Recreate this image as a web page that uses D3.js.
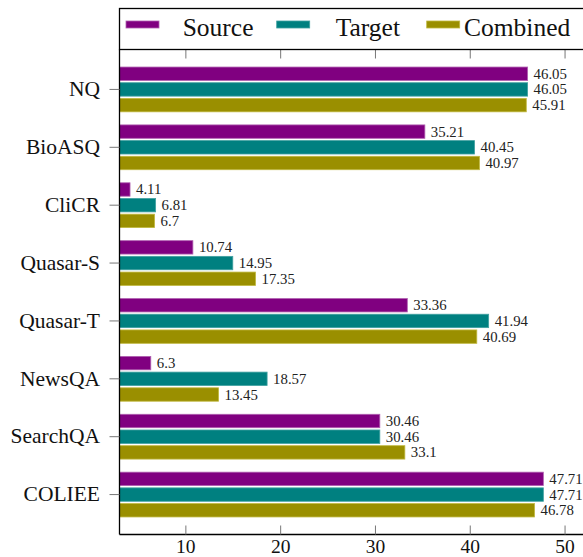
<!DOCTYPE html>
<html><head><meta charset="utf-8">
<script src="https://cdn.jsdelivr.net/npm/d3@7"></script>
<style>body{margin:0;background:#fff}svg{display:block}text{font-family:"Liberation Serif","DejaVu Serif",serif}</style>
</head><body>
<svg id="c" width="583" height="557"></svg>
<script>
const categories = ["NQ","BioASQ","CliCR","Quasar-S","Quasar-T","NewsQA","SearchQA","COLIEE"];
const sourceVals = [46.05,35.21,4.11,10.74,33.36,6.3,30.46,47.71];
const targetVals = [46.05,40.45,6.81,14.95,41.94,18.57,30.46,47.71];
const combinedVals = [45.91,40.97,6.7,17.35,40.69,13.45,33.1,46.78];
const seriesNames = ["Source","Target","Combined"];
const xTicks = [10,20,30,40,50];

(function(){
const colors = ["#800080","#008080","#9a8f00"];
const strokes = ["#b060b0","#40a0a0","#c0b840"];
const series = [sourceVals,targetVals,combinedVals];

const svg = d3.select("#c");
const pL = 119.5, pT = 49.5, pB = 534.5, pR = 640;
const x = d3.scaleLinear().domain([3,53]).range([pL, pL+50*9.48]);
const y = d3.scaleBand().domain(categories).range([pT,pB]).paddingInner(0).paddingOuter(0.19);
const barH = 13.4, barStep = 15.7;

series.forEach((vals,si)=>{
  const g = svg.append("g");
  g.selectAll("rect").data(vals).join("rect")
    .attr("x", x(3))
    .attr("y",(d,i)=> y(categories[i]) + y.bandwidth()/2 + (si-1)*barStep - barH/2)
    .attr("width", d=> x(d)-x(3))
    .attr("height", barH)
    .attr("fill", colors[si])
    .attr("stroke", strokes[si]).attr("stroke-width",0.8);
  g.selectAll("text").data(vals).join("text")
    .attr("x", d=> x(d)+6)
    .attr("y",(d,i)=> y(categories[i]) + y.bandwidth()/2 + (si-1)*barStep + 5)
    .attr("font-size",14.8).attr("fill","#222")
    .text(d=> d);
});

svg.append("line").attr("x1",pL).attr("x2",pL).attr("y1",pT).attr("y2",pB).attr("stroke","#000").attr("stroke-width",1.3);
svg.append("line").attr("x1",pL).attr("x2",pR).attr("y1",pB).attr("y2",pB).attr("stroke","#000").attr("stroke-width",1.3);

const xa = svg.append("g");
xTicks.forEach(t=>{
  xa.append("line").attr("x1",x(t)).attr("x2",x(t)).attr("y1",pB).attr("y2",pB-9).attr("stroke","#777").attr("stroke-width",1);
  xa.append("line").attr("x1",x(t)).attr("x2",x(t)).attr("y1",pT).attr("y2",pT+9).attr("stroke","#777").attr("stroke-width",1);
  xa.append("text").attr("x",x(t)).attr("y",553).attr("text-anchor","middle")
    .attr("font-size",19.5).attr("fill","#111").text(t);
});

const ya = svg.append("g");
categories.forEach(c=>{
  const cy = y(c)+y.bandwidth()/2;
  ya.append("line").attr("x1",pL-10).attr("x2",pL).attr("y1",cy).attr("y2",cy).attr("stroke","#777").attr("stroke-width",1);
  ya.append("text").attr("x",100).attr("y",cy+6.8).attr("text-anchor","end")
    .attr("font-size",21.5).attr("fill","#111").text(c);
});

svg.append("rect").attr("x",pL).attr("y",8.5).attr("width",pR-pL).attr("height",pT-8.5)
  .attr("fill","#fff").attr("stroke","#000").attr("stroke-width",1.3);
const legRectX = [126,276.7,426.7], legTextX = [182.7,335.7,464];
seriesNames.forEach((n,i)=>{
  svg.append("rect").attr("x",legRectX[i]).attr("y",21).attr("width",33).attr("height",7)
    .attr("fill",colors[i]).attr("stroke",strokes[i]).attr("stroke-width",0.8);
  svg.append("text").attr("x",legTextX[i]).attr("y",36)
    .attr("font-size",25.5).attr("fill","#111").text(n);
});
})();
</script>
</body></html>
